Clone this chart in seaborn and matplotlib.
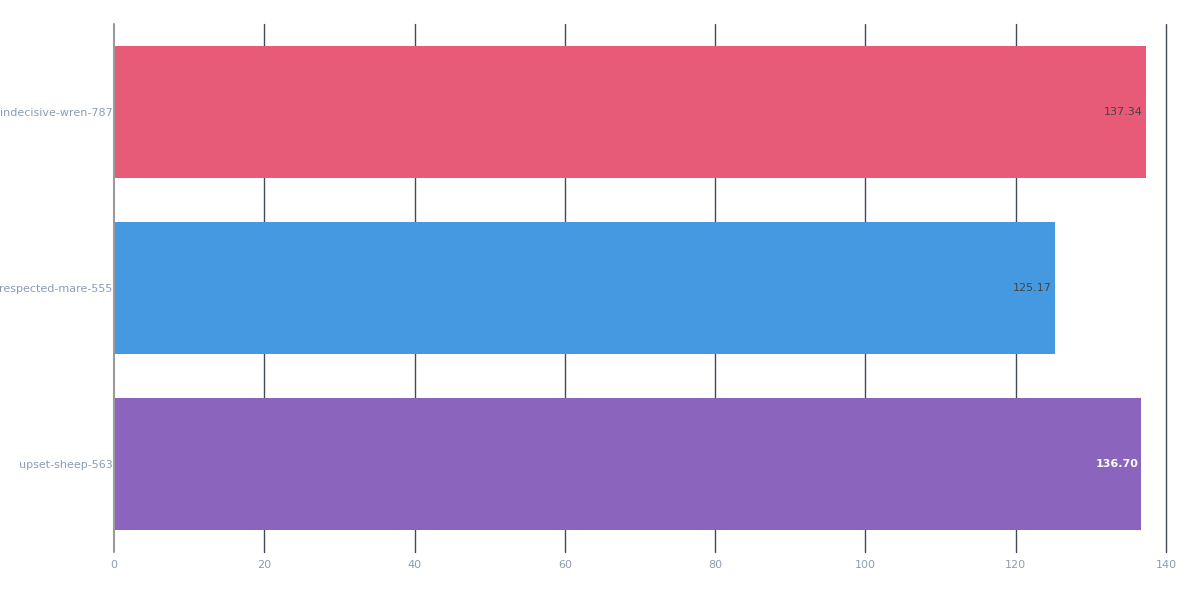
"""Horizontal bar chart of three run scores."""

import matplotlib

matplotlib.use("Agg")
import matplotlib.pyplot as plt
import pandas as pd
import seaborn as sns

runs = ["indecisive-wren-787", "respected-mare-555", "upset-sheep-563"]
scores = [137.34, 125.17, 136.70]
bar_colors = ["#E85B78", "#4499E0", "#8A64BD"]
label_colors = ["#444444", "#444444", "#FFFFFF"]
x_ticks = [0, 20, 40, 60, 80, 100, 120, 140]

TICK_COLOR = "#8C9DB2"
GRID_COLOR = "#414957"


def main() -> None:
    sns.set_theme(style="white")
    plt.rcParams["font.family"] = ["DejaVu Sans"]

    df = pd.DataFrame({"run": runs, "score": scores})

    fig = plt.figure(figsize=(12, 6), dpi=100)
    ax = fig.add_axes([0.095, 0.08, 0.8767, 0.88])

    sns.barplot(
        data=df,
        x="score",
        y="run",
        hue="run",
        palette=bar_colors,
        order=runs,
        orient="h",
        width=0.75,
        saturation=1,
        linewidth=0,
        legend=False,
        ax=ax,
    )

    ax.set_xlim(0, 140)
    ax.set_xticks(x_ticks)
    ax.set_xticklabels([str(t) for t in x_ticks])
    ax.set_xlabel("")
    ax.set_ylabel("")
    for spine in ax.spines.values():
        spine.set_visible(False)

    for t in x_ticks[1:]:
        ax.axvline(t, color=GRID_COLOR, linewidth=1, zorder=0, clip_on=False)
    ax.axvline(0, color="#9A9A9A", linewidth=1.5, zorder=3, clip_on=False)

    ax.tick_params(axis="x", length=0, pad=6, labelsize=8, labelcolor=TICK_COLOR)
    ax.tick_params(axis="y", length=0, pad=1, labelsize=8, labelcolor=TICK_COLOR)

    for i, (val, col) in enumerate(zip(scores, label_colors)):
        ax.text(
            val - 0.4,
            i,
            f"{val:.2f}",
            ha="right",
            va="center",
            fontsize=8,
            color=col,
            fontweight="bold" if col == "#FFFFFF" else "normal",
            zorder=4,
        )

    fig.savefig("out.png", dpi=100)
    plt.close(fig)


if __name__ == "__main__":
    main()
